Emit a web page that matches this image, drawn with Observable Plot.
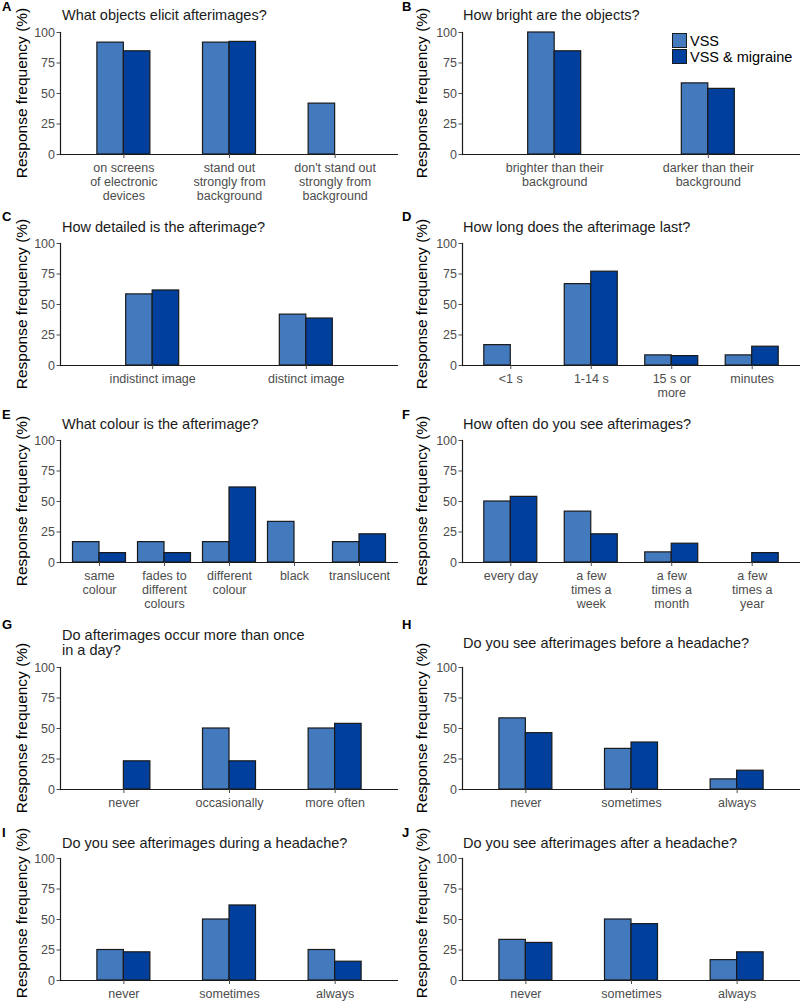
<!DOCTYPE html>
<html>
<head>
<meta charset="utf-8">
<script src="https://cdn.jsdelivr.net/npm/d3@7"></script>
<script src="https://cdn.jsdelivr.net/npm/@observablehq/plot@0.6"></script>
<style>
  html, body { margin: 0; padding: 0; background: #fff; }
  #root { position: relative; width: 800px; height: 1001px; overflow: hidden; font-family: "Liberation Sans", Arial, sans-serif; }
  .abs { position: absolute; white-space: nowrap; }
  .letter { font-weight: bold; font-size: 13px; line-height: 14px; color: #000; }
  .title { font-size: 14.5px; line-height: 15px; color: #1a1a1a; }
  .ylab { font-size: 15.5px; line-height: 16px; color: #000; transform: translate(-50%, -50%) rotate(-90deg); }
  .leg { font-size: 14.5px; line-height: 16px; color: #000; }
  .sw { position: absolute; width: 13px; height: 13px; border: 1px solid #1a1a1a; }
</style>
</head>
<body>
<div id="root"></div>
<script>
// ---------------- data ----------------
const seriesNames = ["VSS", "VSS & migraine"];
const seriesColors = ["#4379bd", "#003f9b"];
const yTicks = [0, 25, 50, 75, 100];

const catsA = ["on screens\nof electronic\ndevices", "stand out\nstrongly from\nbackground", "don't stand out\nstrongly from\nbackground"];
const vssA = [91.7, 91.7, 41.7];
const migA = [84.6, 92.3, 0];

const catsB = ["brighter than their\nbackground", "darker than their\nbackground"];
const vssB = [100, 58.3];
const migB = [84.6, 53.8];

const catsC = ["indistinct image", "distinct image"];
const vssC = [58.3, 41.7];
const migC = [61.5, 38.5];

const catsD = ["<1 s", "1-14 s", "15 s or\nmore", "minutes"];
const vssD = [16.7, 66.7, 8.3, 8.3];
const migD = [0, 76.9, 7.7, 15.4];

const catsE = ["same\ncolour", "fades to\ndifferent\ncolours", "different\ncolour", "black", "translucent"];
const vssE = [16.7, 16.7, 16.7, 33.3, 16.7];
const migE = [7.7, 7.7, 61.5, 0, 23.1];

const catsF = ["every day", "a few\ntimes a\nweek", "a few\ntimes a\nmonth", "a few\ntimes a\nyear"];
const vssF = [50, 41.7, 8.3, 0];
const migF = [53.8, 23.1, 15.4, 7.7];

const catsG = ["never", "occasionally", "more often"];
const vssG = [0, 50, 50];
const migG = [23.1, 23.1, 53.8];

const catsH = ["never", "sometimes", "always"];
const vssH = [58.3, 33.3, 8.3];
const migH = [46.2, 38.5, 15.4];

const catsI = ["never", "sometimes", "always"];
const vssI = [25, 50, 25];
const migI = [23.1, 61.5, 15.4];

const catsJ = ["never", "sometimes", "always"];
const vssJ = [33.3, 50, 16.7];
const migJ = [30.8, 46.2, 23.1];

const panels = [
  {letter: "A", title: ["What objects elicit afterimages?"], cats: catsA, vss: vssA, mig: migA, col: 0, top: 32, letterY: 7, titleY: [15]},
  {letter: "B", title: ["How bright are the objects?"], cats: catsB, vss: vssB, mig: migB, col: 1, top: 32, letterY: 7, titleY: [15]},
  {letter: "C", title: ["How detailed is the afterimage?"], cats: catsC, vss: vssC, mig: migC, col: 0, top: 243, letterY: 217, titleY: [227]},
  {letter: "D", title: ["How long does the afterimage last?"], cats: catsD, vss: vssD, mig: migD, col: 1, top: 243, letterY: 217, titleY: [227]},
  {letter: "E", title: ["What colour is the afterimage?"], cats: catsE, vss: vssE, mig: migE, col: 0, top: 440, letterY: 415, titleY: [424]},
  {letter: "F", title: ["How often do you see afterimages?"], cats: catsF, vss: vssF, mig: migF, col: 1, top: 440, letterY: 415, titleY: [424]},
  {letter: "G", title: ["Do afterimages occur more than once", "in a day?"], cats: catsG, vss: vssG, mig: migG, col: 0, top: 667, letterY: 625, titleY: [635, 650]},
  {letter: "H", title: ["Do you see afterimages before a headache?"], cats: catsH, vss: vssH, mig: migH, col: 1, top: 667, letterY: 625, titleY: [643]},
  {letter: "I", title: ["Do you see afterimages during a headache?"], cats: catsI, vss: vssI, mig: migI, col: 0, top: 858, letterY: 833, titleY: [843], ylabShift: -6},
  {letter: "J", title: ["Do you see afterimages after a headache?"], cats: catsJ, vss: vssJ, mig: migJ, col: 1, top: 858, letterY: 833, titleY: [843], ylabShift: -6}
];

// ---------------- layout ----------------
const root = document.getElementById("root");
const plotH = 122, mTop = 8, mBottom = 52;
const groupW = 53;

function addDiv(cls, text, left, top, extra) {
  const d = document.createElement("div");
  d.className = "abs " + cls;
  d.textContent = text;
  d.style.left = left + "px";
  d.style.top = top + "px";
  if (extra) Object.assign(d.style, extra);
  root.appendChild(d);
  return d;
}

for (const p of panels) {
  const x0 = p.col * 400;
  const mLeft = p.col ? 62 : 60;
  const mRight = p.col ? 0 : 2;
  const W = 400 - mLeft - mRight;
  const n = p.cats.length;
  const step = W / (n + 0.2);
  const pi = 1 - groupW / step;
  const po = 0.1 + pi / 2;

  const data = p.cats.flatMap((c, i) => [
    {cat: c, series: seriesNames[0], v: p.vss[i]},
    {cat: c, series: seriesNames[1], v: p.mig[i]}
  ]);

  const svg = Plot.plot({
    width: 400,
    height: plotH + mTop + mBottom,
    marginLeft: mLeft,
    marginRight: mRight,
    marginTop: mTop,
    marginBottom: mBottom,
    style: {fontFamily: '"Liberation Sans", Arial, sans-serif', background: "transparent", overflow: "visible"},
    x: {domain: p.cats, paddingInner: pi, paddingOuter: po, round: false, label: null},
    y: {domain: [0, 100], label: null},
    color: {domain: seriesNames, range: seriesColors},
    marks: [
      Plot.barY(data.filter(d => d.series === seriesNames[0] && d.v > 0),
        {x: "cat", y: "v", fill: "series", stroke: "#1a1a1a", strokeWidth: 1.2, insetRight: groupW / 2}),
      Plot.barY(data.filter(d => d.series === seriesNames[1] && d.v > 0),
        {x: "cat", y: "v", fill: "series", stroke: "#1a1a1a", strokeWidth: 1.2, insetLeft: groupW / 2}),
      Plot.ruleY([0], {stroke: "#1a1a1a", strokeWidth: 1.2}),
      Plot.frame({anchor: "left", stroke: "#1a1a1a", strokeWidth: 1.2}),
      Plot.axisY({ticks: yTicks, tickSize: 3.5, tickPadding: 2, fontSize: 12.5, color: "#4d4d4d", label: null}),
      Plot.axisX({tickSize: 4, tickPadding: 4, fontSize: 12.5, lineHeight: 1.12, color: "#4d4d4d", label: null})
    ]
  });
  svg.style.position = "absolute";
  svg.style.left = x0 + "px";
  svg.style.top = (p.top - mTop) + "px";
  root.appendChild(svg);

  addDiv("letter", p.letter, x0 + 2, p.letterY - 7);
  p.title.forEach((t, i) => addDiv("title", t, x0 + (p.col ? 63 : 62), p.titleY[i] - 7.5));
  addDiv("ylab", "Response frequency (%)", x0 + 22, p.top + plotH / 2 + (p.ylabShift || 0));
}

// legend (panel B)
const legX = 672, legY = [33, 49];
seriesNames.forEach((s, i) => {
  const sw = document.createElement("div");
  sw.className = "sw";
  sw.style.left = legX + "px";
  sw.style.top = legY[i] + "px";
  sw.style.background = seriesColors[i];
  root.appendChild(sw);
  addDiv("leg", s, legX + 18, legY[i] - 0.5);
});
</script>
</body>
</html>
